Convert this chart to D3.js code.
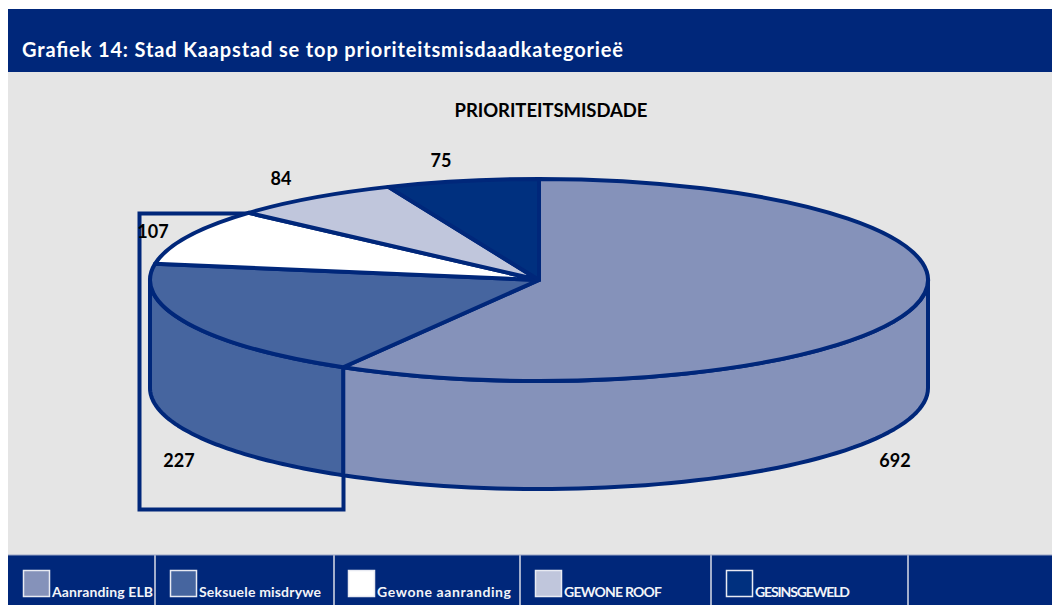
<!DOCTYPE html>
<html><head><meta charset="utf-8">
<script src="https://cdn.jsdelivr.net/npm/d3@7/dist/d3.min.js"></script>
<style>html,body{margin:0;padding:0;background:#fff}svg{display:block}text{font-family:Lato,"Open Sans",sans-serif;font-weight:700}</style>
</head><body><svg id="c" width="1052" height="605"></svg>
<script>
const categories = ["Aanranding ELB","Seksuele misdrywe","Gewone aanranding","GEWONE ROOF","GESINSGEWELD"];
const values = [692,227,107,84,75];
const colors = ["#8592ba","#46659f","#ffffff","#c0c6dc","#00307f"];
const chartTitle = "Grafiek 14: Stad Kaapstad se top prioriteitsmisdaadkategorieë";
const pieTitle = "PRIORITEITSMISDADE";

const W=1052,H=605,navy="#00277a";
const cx=539,cy=280,rx=389,ry=101,depth=108;
const labelPos=[[895,467],[179,467],[153,238],[281,185],[441,167]];
const legendSwatchX=[23,170,348,535,726];
const legendDividers=[155,334,520,711,908];
const legendTextWidth=[101,122,134,98,95];

const svg=d3.select("#c");
svg.append("rect").attr("x",8).attr("y",72).attr("width",W-8).attr("height",483).attr("fill","#e5e5e5");
svg.append("rect").attr("x",8).attr("y",9).attr("width",W-8).attr("height",63).attr("fill",navy);
svg.append("rect").attr("x",8).attr("y",555).attr("width",W-8).attr("height",50).attr("fill",navy);
svg.append("text").attr("x",22).attr("y",57).attr("fill","#fff").attr("font-size",20)
  .attr("textLength",601).attr("lengthAdjust","spacing").text(chartTitle);
svg.append("text").attr("x",551).attr("y",117).attr("text-anchor","middle").attr("fill","#000").attr("font-size",18.5)
  .attr("textLength",193).attr("lengthAdjust","spacing").text(pieTitle);

// highlight rectangle behind the pie
svg.append("rect").attr("x",139.5).attr("y",213.5).attr("width",204).attr("height",296)
  .attr("fill","none").attr("stroke",navy).attr("stroke-width",4);

const arcs=d3.pie().sort(null).value(d=>d)(values);
const px=a=>cx+rx*Math.sin(a), py=a=>cy-ry*Math.cos(a);

// walls: front half only
const wall=d3.line();
arcs.forEach((d,i)=>{
  const a0=Math.max(d.startAngle,Math.PI/2), a1=Math.min(d.endAngle,3*Math.PI/2);
  if(a1<=a0) return;
  const top=d3.range(0,61).map(k=>a0+(a1-a0)*k/60);
  const pts=top.map(a=>[px(a),py(a)]).concat(top.slice().reverse().map(a=>[px(a),py(a)+depth]));
  svg.append("path").attr("d",wall(pts)+"Z").attr("fill",colors[i]).attr("stroke",navy)
    .attr("stroke-width",4).attr("stroke-linejoin","round");
});

// top face
const arcGen=d3.arc().innerRadius(0).outerRadius(rx);
svg.append("g").attr("transform",`translate(${cx},${cy}) scale(1,${ry/rx})`)
  .selectAll("path").data(arcs).join("path")
  .attr("d",arcGen).attr("fill",(d,i)=>colors[i]).attr("stroke",navy)
  .attr("stroke-width",4).attr("vector-effect","non-scaling-stroke").attr("stroke-linejoin","round");

svg.append("g").selectAll("text").data(values).join("text")
  .attr("x",(d,i)=>labelPos[i][0]).attr("y",(d,i)=>labelPos[i][1]).attr("text-anchor","middle")
  .attr("fill","#000").attr("font-size",18).text(d=>d);

// legend
svg.append("g").selectAll("line").data(legendDividers).join("line")
  .attr("x1",d=>d).attr("x2",d=>d).attr("y1",555).attr("y2",605).attr("stroke","#d8dce8").attr("stroke-width",1.5);
svg.append("line").attr("x1",8).attr("x2",W).attr("y1",555).attr("y2",555).attr("stroke","#9aa5c4").attr("stroke-width",1);
const lg=svg.append("g").selectAll("g").data(categories).join("g");
lg.append("rect").attr("x",(d,i)=>legendSwatchX[i]+.5).attr("y",570.5).attr("width",26).attr("height",26)
  .attr("fill",(d,i)=>colors[i]).attr("stroke","#e8eaf2").attr("stroke-width",1.5);
lg.append("text").attr("x",(d,i)=>legendSwatchX[i]+29).attr("y",597).attr("fill","#f2f4f8").attr("font-size",14)
  .attr("textLength",(d,i)=>legendTextWidth[i]).attr("lengthAdjust","spacing").text(d=>d);
</script></body></html>
